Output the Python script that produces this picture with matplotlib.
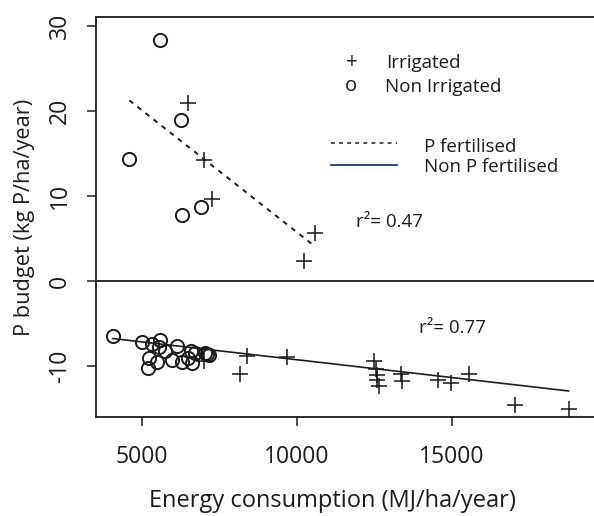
import matplotlib
matplotlib.use("Agg")
import matplotlib.pyplot as plt
import numpy as np

plt.rcParams['font.family'] = ['Open Sans', 'DejaVu Sans']

# --- data ---
# P fertilised (upper group)
pf_irr_x = [6488, 7016, 7247, 10580, 10244]
pf_irr_y = [20.9, 14.2, 9.6, 5.6, 2.3]
pf_non_x = [5570, 6245, 4589, 6909, 6298]
pf_non_y = [28.4, 18.9, 14.4, 8.7, 7.8]

# Non P fertilised (lower group)
npf_non_x = [4060, 4990, 5326, 5580, 5538, 5728, 5221, 5484, 5180, 6117,
             5981, 6298, 6592, 6614, 6488, 6700, 7035, 7174, 7100]
npf_non_y = [-6.5, -7.2, -7.45, -6.9, -7.8, -8.2, -9.0, -9.5, -10.2, -7.7,
             -9.3, -9.5, -8.2, -9.6, -9.0, -8.5, -8.5, -8.75, -8.6]
npf_irr_x = [7016, 8387, 8175, 9675, 12480, 12555, 12587, 12606, 12660,
             13365, 13397, 14558, 14979, 15561, 17036, 18778]
npf_irr_y = [-9.4, -8.8, -10.9, -8.9, -9.4, -10.4, -11.0, -11.6, -12.4,
             -10.9, -11.8, -11.6, -12.0, -10.9, -14.6, -15.1]

# regression lines (intercept, slope)
pf_fit = (34.4, -0.002865)
npf_fit = (-5.07, -0.000419)
pf_r2 = "r²= 0.47"
npf_r2 = "r²= 0.77"

x_ticks = [5000, 10000, 15000]
y_ticks = [-10, 0, 10, 20, 30]

ink = '#1e1b1c'
navy = '#1f3c78'

fig = plt.figure(figsize=(5.94, 5.16), dpi=100)
ax = fig.add_axes([96/594, 1-417/516, 1-96/594, (417-17)/516])

ax.set_xlim(3513, 19600)
ax.set_ylim(-16.0, 31.06)

plus_kw = dict(ls='none', marker='+', ms=11, mew=1.15, color=ink)
circ_kw = dict(ls='none', marker='o', ms=9.5, mew=1.4, mfc='none', mec=ink)

ax.plot(pf_irr_x, pf_irr_y, **plus_kw)
ax.plot(pf_non_x, pf_non_y, **circ_kw)
ax.plot(npf_irr_x, npf_irr_y, **plus_kw)
ax.plot(npf_non_x, npf_non_y, **circ_kw)

allpf = pf_irr_x + pf_non_x
xx = np.array([min(allpf), max(allpf)])
ax.plot(xx, pf_fit[0] + pf_fit[1]*xx, ls=(0, (2.5, 2.8)), lw=1.4, color=ink)
allnpf = npf_irr_x + npf_non_x
xx2 = np.array([min(allnpf), max(allnpf)])
ax.plot(xx2, npf_fit[0] + npf_fit[1]*xx2, ls='-', lw=1.2, color=ink)

ax.axhline(0, color=ink, lw=1.3)

for s in ['left', 'bottom', 'top']:
    ax.spines[s].set_color(ink)
    ax.spines[s].set_linewidth(1.3)
ax.spines['right'].set_visible(False)

ax.set_xticks(x_ticks)
ax.set_yticks(y_ticks)
ax.set_yticklabels([str(v) for v in y_ticks], rotation=90, va='center')
ax.tick_params(direction='out', length=6.3, width=1.1, color=ink, labelcolor=ink, labelsize=16.5)
ax.tick_params(axis='y', pad=11)
ax.tick_params(axis='x', pad=14)

ax.set_xlabel("Energy consumption (MJ/ha/year)", fontsize=17, color=ink, labelpad=14)
ax.xaxis.label.set_x((332 - 96) / (594 - 96))
ax.set_ylabel("P budget (kg P/ha/year)", fontsize=15.7, color=ink, labelpad=9)

# legend drawn as text, in pixel coordinates of the figure
def px(x, y):
    return (x/594, 1-y/516)

fs = 13.5
fig.text(*px(351.7, 62.5), "+", fontsize=15, color=ink, ha='center', va='center')
fig.text(*px(386, 63.3), "Irrigated", fontsize=fs, color=ink, ha='left', va='center')
fig.text(*px(350.7, 86.0), "o", fontsize=14.5, color=ink, ha='center', va='center')
fig.text(*px(385, 86.7), "Non Irrigated", fontsize=fs, color=ink, ha='left', va='center')
fig.add_artist(plt.Line2D([330.7/594, 396.7/594], [1-143.3/516]*2, ls=(0, (2.5, 2.8)), lw=1.1, color=ink))
fig.add_artist(plt.Line2D([330.7/594, 396.7/594], [1-165/516]*2, ls='-', lw=1.3, color=navy))
fig.text(*px(424, 147.3), "P fertilised", fontsize=fs, color=ink, ha='left', va='center')
fig.text(*px(424, 167.3), "Non P fertilised", fontsize=fs, color=ink, ha='left', va='center')
fig.text(*px(356, 221.7), pf_r2, fontsize=fs, color=ink, ha='left', va='center')
fig.text(*px(419.3, 327.7), npf_r2, fontsize=fs, color=ink, ha='left', va='center')

fig.savefig("out.png", dpi=100)
